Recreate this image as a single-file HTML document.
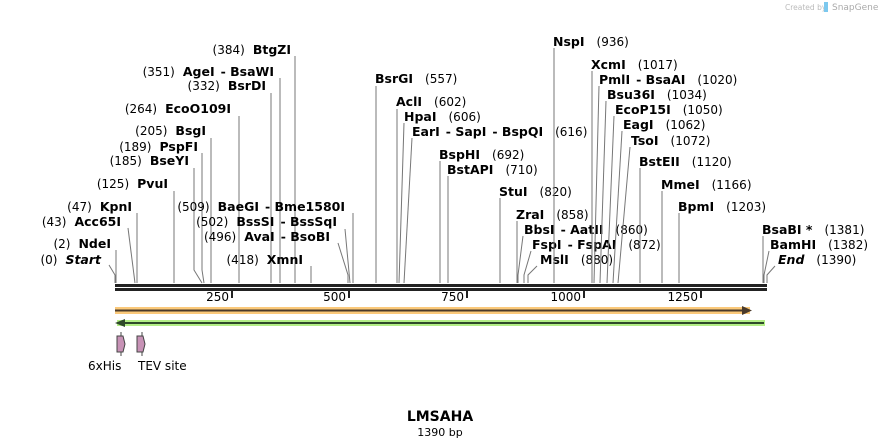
<!DOCTYPE html>
<html><head><meta charset="utf-8"><style>
html,body{margin:0;padding:0;background:#fff;}
svg{display:block;font-family:"DejaVu Sans","Liberation Sans",sans-serif;}
.n{font-size:12px;font-weight:normal;fill:#000}
.b{font-size:12.5px;font-weight:bold;fill:#000}
.l{stroke:#777;stroke-width:1;fill:none}
</style></head><body>
<svg width="882" height="447" viewBox="0 0 882 447" xmlns="http://www.w3.org/2000/svg">
<text x="785" y="10" font-size="7.5" fill="#bbb">Created by</text>
<rect x="824" y="2" width="4" height="10" fill="#7cc8ee"/>
<text x="832" y="10" font-size="9" fill="#aaa">SnapGene</text>

<g>
<text x="291" y="54" text-anchor="end"><tspan class="n">(384)</tspan><tspan class="b" dx="8">BtgZI</tspan></text>
<polyline class="l" points="295,56 295,283"/>
<text x="274" y="76" text-anchor="end"><tspan class="n">(351)</tspan><tspan class="b" dx="8">AgeI</tspan><tspan class="b" dx="6">- BsaWI</tspan></text>
<polyline class="l" points="280,78 280,283"/>
<text x="266" y="90" text-anchor="end"><tspan class="n">(332)</tspan><tspan class="b" dx="8">BsrDI</tspan></text>
<polyline class="l" points="271,93 271,283"/>
<text x="231" y="113" text-anchor="end"><tspan class="n">(264)</tspan><tspan class="b" dx="8">EcoO109I</tspan></text>
<polyline class="l" points="239,116 239,283"/>
<text x="206" y="135" text-anchor="end"><tspan class="n">(205)</tspan><tspan class="b" dx="8">BsgI</tspan></text>
<polyline class="l" points="211,138 211,283"/>
<text x="198" y="151" text-anchor="end"><tspan class="n">(189)</tspan><tspan class="b" dx="8">PspFI</tspan></text>
<polyline class="l" points="202,153 202,270 204,283"/>
<text x="189" y="165" text-anchor="end"><tspan class="n">(185)</tspan><tspan class="b" dx="8">BseYI</tspan></text>
<polyline class="l" points="194,168 194,270 202,283"/>
<text x="168" y="188" text-anchor="end"><tspan class="n">(125)</tspan><tspan class="b" dx="8">PvuI</tspan></text>
<polyline class="l" points="174,191 174,283"/>
<text x="132" y="211" text-anchor="end"><tspan class="n">(47)</tspan><tspan class="b" dx="8">KpnI</tspan></text>
<polyline class="l" points="137,213 137,283"/>
<text x="121" y="226" text-anchor="end"><tspan class="n">(43)</tspan><tspan class="b" dx="8">Acc65I</tspan></text>
<polyline class="l" points="128,228 135,283"/>
<text x="111" y="248" text-anchor="end"><tspan class="n">(2)</tspan><tspan class="b" dx="8">NdeI</tspan></text>
<polyline class="l" points="116,250 116,283"/>
<text x="101" y="264" text-anchor="end"><tspan class="n">(0)</tspan><tspan class="b" dx="8" font-style="italic">Start</tspan></text>
<polyline class="l" points="109,265 115,275 115,283"/>

<text x="345" y="211" text-anchor="end"><tspan class="n">(509)</tspan><tspan class="b" dx="8">BaeGI</tspan><tspan class="b" dx="6">- Bme1580I</tspan></text>
<polyline class="l" points="353,213 353,283"/>
<text x="337" y="226" text-anchor="end"><tspan class="n">(502)</tspan><tspan class="b" dx="8">BssSI</tspan><tspan class="b" dx="6">- BssSqI</tspan></text>
<polyline class="l" points="345,229 350,283"/>
<text x="330" y="241" text-anchor="end"><tspan class="n">(496)</tspan><tspan class="b" dx="8">AvaI</tspan><tspan class="b" dx="6">- BsoBI</tspan></text>
<polyline class="l" points="338,243 348,275 348,283"/>
<text x="303" y="264" text-anchor="end"><tspan class="n">(418)</tspan><tspan class="b" dx="8">XmnI</tspan></text>
<polyline class="l" points="311,266 311,283"/>
</g>

<g>
<text x="375" y="83"><tspan class="b">BsrGI</tspan><tspan class="n" dx="12">(557)</tspan></text>
<polyline class="l" points="376,86 376,283"/>
<text x="396" y="106"><tspan class="b">AclI</tspan><tspan class="n" dx="12">(602)</tspan></text>
<polyline class="l" points="397,109 397,283"/>
<text x="404" y="121"><tspan class="b">HpaI</tspan><tspan class="n" dx="12">(606)</tspan></text>
<polyline class="l" points="404,123 399,283"/>
<text x="412" y="136"><tspan class="b">EarI</tspan><tspan class="b" dx="6">- SapI</tspan><tspan class="b" dx="6">- BspQI</tspan><tspan class="n" dx="12">(616)</tspan></text>
<polyline class="l" points="412,138 404,283"/>
<text x="439" y="159"><tspan class="b">BspHI</tspan><tspan class="n" dx="12">(692)</tspan></text>
<polyline class="l" points="440,161 440,283"/>
<text x="447" y="174"><tspan class="b">BstAPI</tspan><tspan class="n" dx="12">(710)</tspan></text>
<polyline class="l" points="448,176 448,283"/>
<text x="499" y="196"><tspan class="b">StuI</tspan><tspan class="n" dx="12">(820)</tspan></text>
<polyline class="l" points="500,198 500,283"/>
<text x="516" y="219"><tspan class="b">ZraI</tspan><tspan class="n" dx="12">(858)</tspan></text>
<polyline class="l" points="517,221 517,283"/>
<text x="524" y="234"><tspan class="b">BbsI</tspan><tspan class="b" dx="6">- AatII</tspan><tspan class="n" dx="12">(860)</tspan></text>
<polyline class="l" points="523,236 518,275 518,283"/>
<text x="532" y="249"><tspan class="b">FspI</tspan><tspan class="b" dx="6">- FspAI</tspan><tspan class="n" dx="12">(872)</tspan></text>
<polyline class="l" points="531,251 524,275 524,283"/>
<text x="540" y="264"><tspan class="b">MslI</tspan><tspan class="n" dx="12">(880)</tspan></text>
<polyline class="l" points="537,266 528,275 528,283"/>

<text x="553" y="46"><tspan class="b">NspI</tspan><tspan class="n" dx="12">(936)</tspan></text>
<polyline class="l" points="554,48 554,283"/>
<text x="591" y="69"><tspan class="b">XcmI</tspan><tspan class="n" dx="12">(1017)</tspan></text>
<polyline class="l" points="592,71 592,283"/>
<text x="599" y="84"><tspan class="b">PmlI</tspan><tspan class="b" dx="6">- BsaAI</tspan><tspan class="n" dx="12">(1020)</tspan></text>
<polyline class="l" points="599,86 594,283"/>
<text x="607" y="99"><tspan class="b">Bsu36I</tspan><tspan class="n" dx="12">(1034)</tspan></text>
<polyline class="l" points="606,101 600,283"/>
<text x="615" y="114"><tspan class="b">EcoP15I</tspan><tspan class="n" dx="12">(1050)</tspan></text>
<polyline class="l" points="614,116 607,283"/>
<text x="623" y="129"><tspan class="b">EagI</tspan><tspan class="n" dx="12">(1062)</tspan></text>
<polyline class="l" points="622,131 613,283"/>
<text x="631" y="145"><tspan class="b">TsoI</tspan><tspan class="n" dx="12">(1072)</tspan></text>
<polyline class="l" points="630,147 618,283"/>
<text x="639" y="166"><tspan class="b">BstEII</tspan><tspan class="n" dx="12">(1120)</tspan></text>
<polyline class="l" points="640,168 640,283"/>
<text x="661" y="189"><tspan class="b">MmeI</tspan><tspan class="n" dx="12">(1166)</tspan></text>
<polyline class="l" points="662,191 662,283"/>
<text x="678" y="211"><tspan class="b">BpmI</tspan><tspan class="n" dx="12">(1203)</tspan></text>
<polyline class="l" points="679,213 679,283"/>
<text x="762" y="234"><tspan class="b">BsaBI *</tspan><tspan class="n" dx="12">(1381)</tspan></text>
<polyline class="l" points="763,236 763,283"/>
<text x="770" y="249"><tspan class="b">BamHI</tspan><tspan class="n" dx="12">(1382)</tspan></text>
<polyline class="l" points="769,251 764,275 764,283"/>
<text x="778" y="264"><tspan class="b" font-style="italic">End</tspan><tspan class="n" dx="12">(1390)</tspan></text>
<polyline class="l" points="775,266 767,275 767,283"/>
</g>

<rect x="115" y="284" width="652" height="3" fill="#222"/>
<rect x="115" y="288" width="652" height="3" fill="#222"/>
<g fill="#222">
<rect x="231" y="291" width="2" height="7"/><rect x="348" y="291" width="2" height="7"/>
<rect x="466" y="291" width="2" height="7"/><rect x="583" y="291" width="2" height="7"/>
<rect x="700" y="291" width="2" height="7"/>
</g>
<g text-anchor="end">
<text x="229" y="301" class="n">250</text><text x="346" y="301" class="n">500</text>
<text x="464" y="301" class="n">750</text><text x="581" y="301" class="n">1000</text>
<text x="698" y="301" class="n">1250</text>
</g>

<rect x="115" y="307" width="635" height="7" fill="#fbc97a"/>
<line x1="115" y1="310.5" x2="746" y2="310.5" stroke="#4a3a2a" stroke-width="2"/>
<polygon points="742,306 752,310.5 742,315" fill="#4a3a2a"/>
<rect x="117" y="320" width="648" height="6" fill="#b3ee86"/>
<line x1="121" y1="323" x2="764" y2="323" stroke="#2f4a2a" stroke-width="2"/>
<polygon points="125,319 115,323 125,327" fill="#2f4a2a"/>

<line x1="121" y1="332" x2="121" y2="356" stroke="#444"/>
<polygon points="117,336 123,336 125,344 123,352 117,352" fill="#c792b6" stroke="#444"/>
<line x1="142" y1="332" x2="142" y2="356" stroke="#444"/>
<polygon points="137,336 143,336 145,344 143,352 137,352" fill="#c792b6" stroke="#444"/>
<text x="88" y="370" font-size="12" fill="#000">6xHis</text>
<text x="138" y="370" font-size="12" fill="#000">TEV site</text>

<text x="440" y="421" text-anchor="middle" font-size="14" font-weight="bold">LMSAHA</text>
<text x="440" y="436" text-anchor="middle" font-size="11">1390 bp</text>
</svg>
</body></html>
